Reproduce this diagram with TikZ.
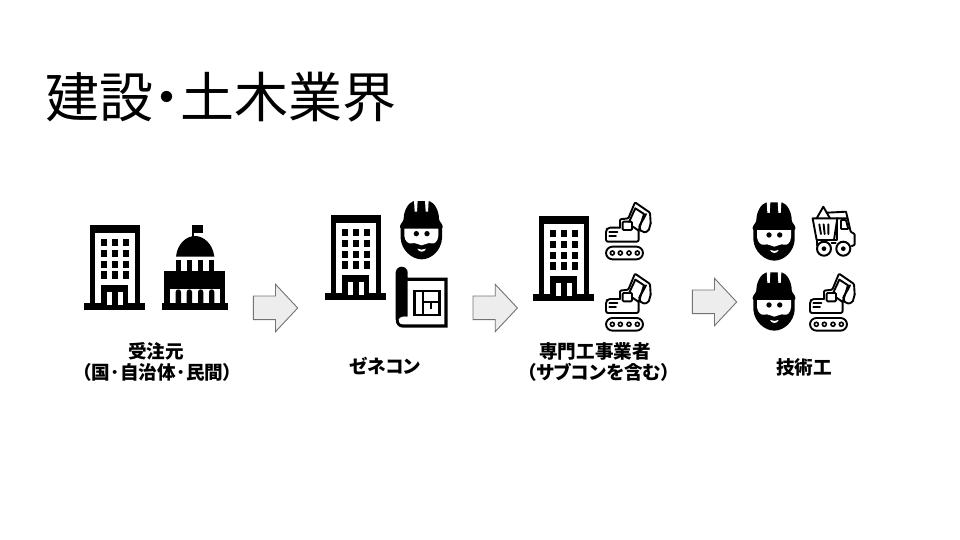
\documentclass[tikz,border=0pt]{standalone}
\usepackage{fontspec}
\newfontfamily\jp{Noto Sans CJK JP}
\newfontfamily\jpp[RawFeature=+palt]{Noto Sans CJK JP}
\tikzset{
  x=1pt,y=-1pt,
  titletext/.style={anchor=west,inner sep=0pt,font=\jp\fontsize{54}{54}\selectfont},
  labeltext/.style={align=center,inner sep=0pt,font=\jpp\bfseries\fontsize{18.6}{21}\selectfont},
  flowarrow/.style={draw=black!55,fill=black!7,line width=0.9pt,line join=miter},
  ink/.style={draw=black,line width=1.9pt,line join=round,line cap=round,fill=none},
  pics/office/.style={code={
    \begin{scope}[scale=1/3,shift={(-43,-105)}]
      \fill[black] (43,340) rectangle (226,360);
      \fill[black] (60,105) rectangle (210,345);
      \fill[white] (76,130) rectangle (194,340);
      \foreach \yy in {147,179,212,244}{\foreach \xx in {92,125,159}{
        \fill[black] (\xx,\yy) rectangle ++(18,22);}}
      \fill[black] (93,285) rectangle (175,345);
      \fill[white] (110,305) rectangle (127,345);
      \fill[white] (143,305) rectangle (160,345);
    \end{scope}}},
  pics/capitol/.style={code={
    \begin{scope}[scale=1/3,shift={(-276,-105)}]
      \fill[black] (276,340) rectangle (474,360);
      \fill[black] (283,243) rectangle (466,345);
      \fill[white] (300,296) rectangle (450,340);
      \foreach \xx in {317,350,384,417}{
        \fill[black] (\xx,342) -- (\xx,306) arc[start angle=180,end angle=360,radius=8] -- (\xx+16,342) -- cycle;
        \fill[black] (\xx,210) rectangle (\xx+16,245);}
      \fill[black] (318,200) .. controls (322,160) and (350,138) .. (375,138)
        .. controls (400,138) and (428,160) .. (433,200) -- cycle;
      \fill[black] (367,105) rectangle (372,140);
      \fill[black] (367,105) rectangle (400,128);
    \end{scope}}},
  pics/worker/.style={code={
    \begin{scope}[scale=1/3,shift={(-270,-33)}]
      \fill[black] (272,112) -- (272,145) .. controls (274,180) and (305,208) .. (335,208)
        .. controls (365,208) and (394,180) .. (396,145) -- (396,112) -- cycle;
      \fill[white] (283,112) -- (283,138) .. controls (285,155) and (296,162) .. (305,160)
        .. controls (318,156) and (325,166) .. (335,166)
        .. controls (345,166) and (352,156) .. (365,160)
        .. controls (374,162) and (383,155) .. (385,138) -- (385,112) -- cycle;
      \fill[white] (322,176) .. controls (330,180) and (340,180) .. (348,176)
        .. controls (344,188) and (326,188) .. (322,176) -- cycle;
      \fill[black] (319,131) circle (8);
      \fill[black] (351,131) circle (8);
      \fill[black,rounded corners=1.2pt] (270,116) -- (270,106) -- (281,90)
        .. controls (281,62) and (295,38) .. (313,33) -- (356,33)
        .. controls (373,38) and (387,62) .. (387,90) -- (398,106) -- (398,116) -- cycle;
      \fill[white] (312,31) -- (323,31) -- (321,65) -- (314,65) -- cycle;
      \fill[white] (345,31) -- (356,31) -- (354,65) -- (347,65) -- cycle;
    \end{scope}}},
  pics/blueprint/.style={code={
    \begin{scope}[scale=1/3,shift={(-257,-230)}]
      \fill[black] (257,248) arc[start angle=180,end angle=360,radius=18] -- (293,263) -- (413,263)
        -- (413,413) -- (280,413) .. controls (265,413) and (257,403) .. (257,388) -- cycle;
      \fill[white] (293,273) -- (403,273) -- (403,403) -- (280,403)
        .. controls (268,403) and (265,395) .. (266,388)
        .. controls (270,380) and (282,378) .. (293,380) -- cycle;
      \draw[black,line width=2.3pt] (313,302) rectangle (388,375);
      \draw[black,line width=1.9pt] (338,302) -- (338,375) (338,335) -- (388,335) (363,335) -- (363,358);
    \end{scope}}},
  pics/excavator/.style={code={
    \begin{scope}[scale=1/3,shift={(-255,-33)}]
      \draw[ink,rounded corners=6.5pt] (258,170) rectangle (369,208);
      \foreach \xx in {277,301,327,352}{\draw[black,line width=1.6pt] (\xx,189) circle (6);}
      \draw[ink,rounded corners=2pt] (300,113) -- (264,113) -- (258,120) -- (258,155) -- (356,155) -- (356,122);
      \draw[ink,rounded corners=1pt] (300,113) -- (300,88) -- (325,85) -- (345,37) -- (390,68) -- (392,100);
      \draw[ink,rounded corners=1pt] (308,95) rectangle (336,120);
      \draw[ink] (336,108) -- (356,122) -- (372,72) -- (346,55) -- (327,96);
      \draw[ink,rounded corners=2pt] (378,72) .. controls (370,90) and (358,105) .. (358,115) -- (366,127) -- (385,125) -- (392,100);
      \draw[ink] (268,125) -- (292,125) (268,138) -- (288,138);
    \end{scope}}},
  pics/truck/.style={code={
    \begin{scope}[scale=1/3,shift={(-397,-47)}]
      \draw[ink] (398,85) -- (472,85) -- (462,150) -- (410,150) -- cycle;
      \draw[ink] (410,85) -- (430,50) -- (450,85);
      \draw[ink] (440,68) -- (498,65) -- (503,85);
      \draw[ink] (418,103) -- (423,132) (431,103) -- (434,132) (445,103) -- (445,132);
      \draw[ink,rounded corners=0.8pt] (472,85) -- (503,85) -- (512,125) -- (524,132) -- (524,165) -- (515,168);
      \draw[ink,rounded corners=0.8pt] (483,90) -- (498,90) -- (505,117) -- (483,117) -- cycle;
      \draw[ink] (472,85) -- (472,150) -- (462,150);
      \draw[ink] (410,150) -- (410,166) (455,160) -- (467,160);
      \draw[black,line width=2pt] (432,176) circle (21);
      \fill[black] (432,176) circle (7);
      \draw[black,line width=2pt] (490,176) circle (21);
      \fill[black] (490,176) circle (7);
    \end{scope}}},
  pics/blockarrow/.style={code={
    \draw[flowarrow] (0,11.7) -- (22.2,11.7) -- (22.2,0) -- (44.4,23.7) -- (22.2,47.4) -- (22.2,35.3) -- (0,35.3) -- cycle;
  }}
}
\begin{document}
\begin{tikzpicture}
  \useasboundingbox (0,0) rectangle (960,540);
  \node[titletext] (title) at (45,97) {建設{\bfseries ･}土木業界};

  \pic at (84.3,225) {office};
  \pic at (162,225) {capitol};
  \pic at (325.3,215) {office};
  \pic at (400,201) {worker};
  \pic at (395.7,266.7) {blueprint};
  \pic at (533.3,216) {office};
  \pic at (605,201) {excavator};
  \pic at (605,272.3) {excavator};
  \pic at (752.7,202.3) {worker};
  \pic at (752.7,272.3) {worker};
  \pic at (812.3,205.7) {truck};
  \pic at (809,272.3) {excavator};

  \pic at (253.3,284.3) {blockarrow};
  \pic at (473,284.3) {blockarrow};
  \pic at (692.3,278.3) {blockarrow};

  \node[labeltext] (client) at (156,362) {受注元\\\kern.15em（国\kern.02em ･\kern.02em 自治体\kern.02em ･\kern.02em 民間）};
  \node[labeltext] (gc) at (385,366) {ゼネコン};
  \node[labeltext] (sub) at (595,362) {専門工事業者\\\kern.4em（サブコンを含む）};
  \node[labeltext] (tech) at (804,367) {技術工};
\end{tikzpicture}
\end{document}
